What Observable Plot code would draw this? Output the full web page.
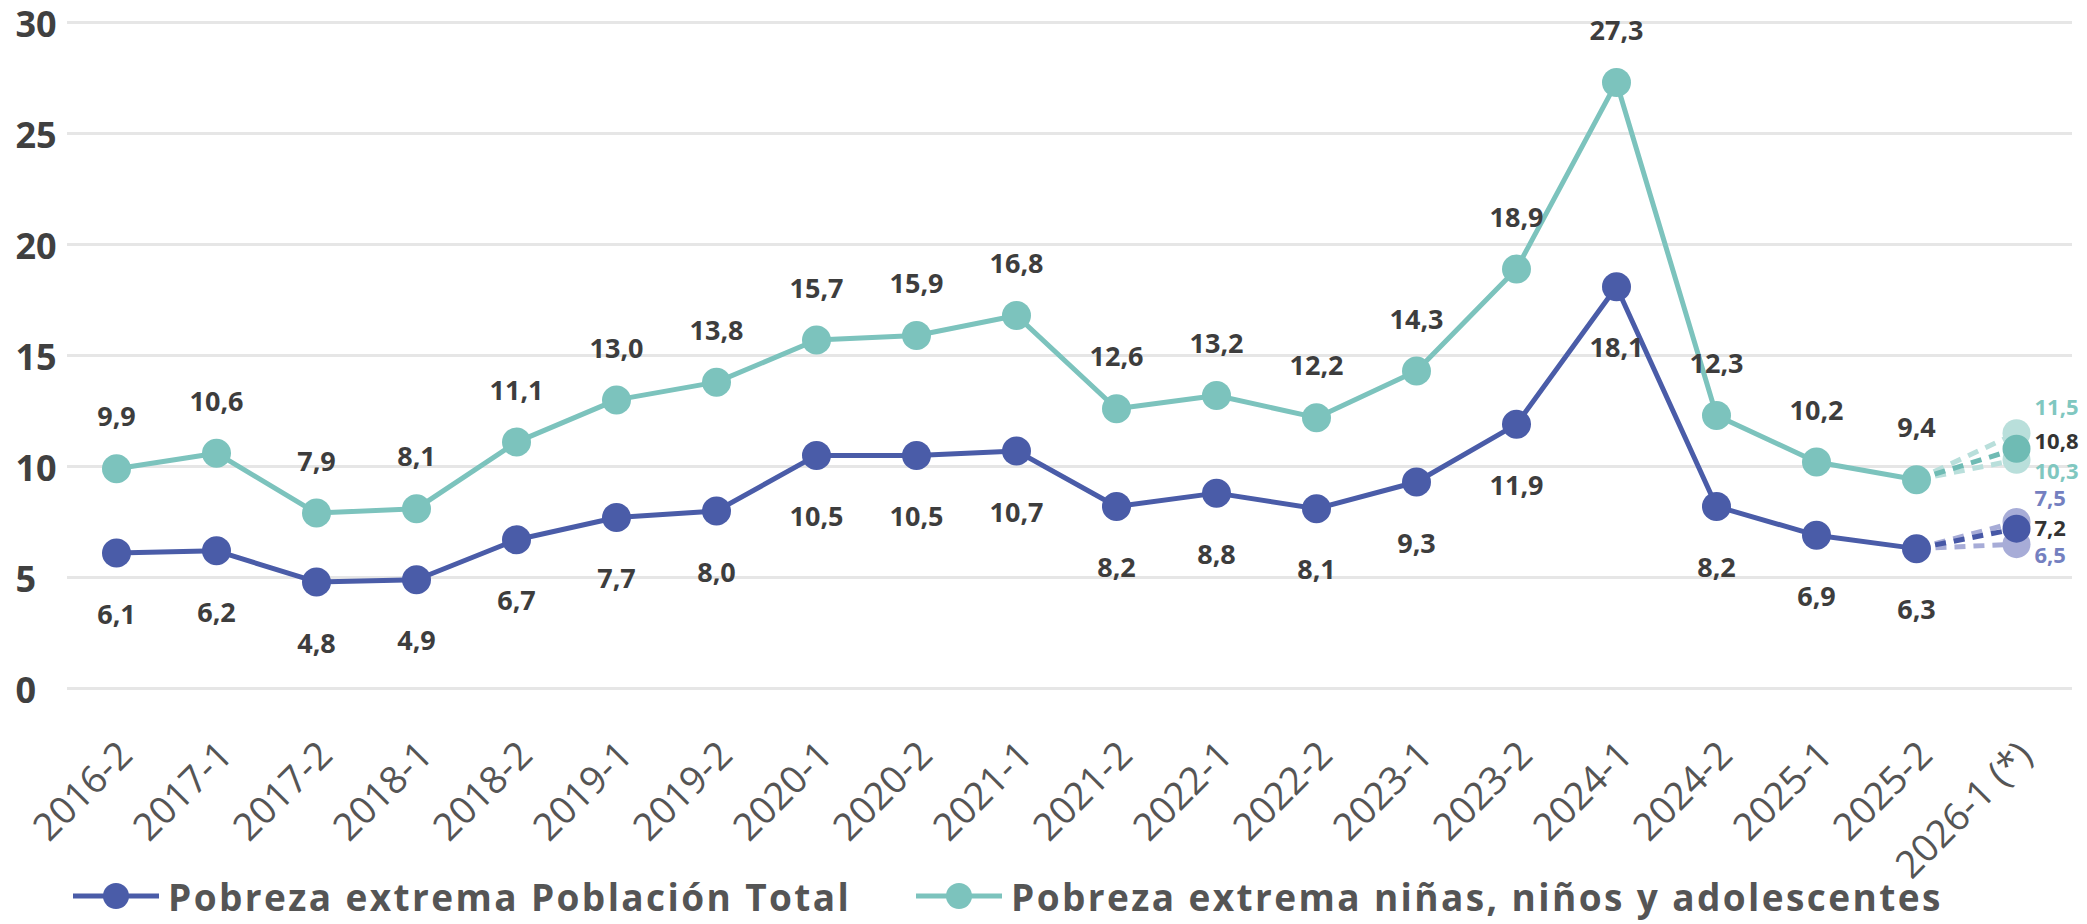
<!DOCTYPE html>
<html>
<head>
<meta charset="utf-8">
<script src="https://cdn.jsdelivr.net/npm/d3@7"></script>
<script src="https://cdn.jsdelivr.net/npm/@observablehq/plot@0.6"></script>
<style>
  html, body { margin: 0; padding: 0; background: #fff; }
  #wrap { position: relative; width: 2087px; height: 924px; overflow: hidden; font-family: "Open Sans", sans-serif; }
  #legend { position: absolute; left: 0; top: 874px; width: 2087px; height: 44px; }
  .item { position: absolute; top: 0; height: 44px; display: flex; align-items: center; }
  .item svg { display: block; }
  .item span { font-weight: 700; font-size: 37px; line-height: 1; color: #555; letter-spacing: 2.4px; margin-left: 9px; white-space: nowrap; }
</style>
</head>
<body>
<div id="wrap">
  <div id="chart"></div>
  <div id="legend"></div>
</div>
<script>
// ---- data ----
const periods = ["2016-2","2017-1","2017-2","2018-1","2018-2","2019-1","2019-2","2020-1","2020-2","2021-1","2021-2","2022-1","2022-2","2023-1","2023-2","2024-1","2024-2","2025-1","2025-2"];
const projPeriod = "2026-1 (*)";
const total = [6.1,6.2,4.8,4.9,6.7,7.7,8.0,10.5,10.5,10.7,8.2,8.8,8.1,9.3,11.9,18.1,8.2,6.9,6.3];
const ninos = [9.9,10.6,7.9,8.1,11.1,13.0,13.8,15.7,15.9,16.8,12.6,13.2,12.2,14.3,18.9,27.3,12.3,10.2,9.4];
// projection scenarios: upper, central, lower
const scenarios = ["alto","central","bajo"];
const totalProj = [7.5, 7.2, 6.5];
const ninosProj = [11.5, 10.8, 10.3];
const yTicks = [0,5,10,15,20,25,30];
const seriesNames = ["Pobreza extrema Población Total", "Pobreza extrema niñas, niños y adolescentes"];

// ---- styles ----
const BLUE = "#4a5ca8", TEAL = "#7cc3bd";
const BLUE_LIGHT = "#a7acd7", TEAL_LIGHT = "#b9dfdb";
const BLUE_MID = "#4758a6", TEAL_MID = "#6fbbb4";
const BLUE_TXT = "#7480c0", TEAL_TXT = "#80c7c0";
const LABEL = "#3d3d3d";

const allPeriods = [...periods, projPeriod];
const fmt = v => v.toFixed(1).replace(".", ",");

const rowsTotal = periods.map((p, i) => ({p, v: total[i]}));
const rowsNinos = periods.map((p, i) => ({p, v: ninos[i]}));
const lastP = periods[periods.length - 1];

const projRows = [];
scenarios.forEach((s, i) => {
  projRows.push({s, serie: "total", v0: total[total.length-1], v: totalProj[i]});
  projRows.push({s, serie: "ninos", v0: ninos[ninos.length-1], v: ninosProj[i]});
});
const projColor = d => d.s === "central" ? (d.serie === "total" ? BLUE_MID : TEAL_MID) : (d.serie === "total" ? BLUE_LIGHT : TEAL_LIGHT);
const projTxt = d => d.s === "central" ? "#333" : (d.serie === "total" ? BLUE_TXT : TEAL_TXT);
// label vertical nudges (to keep the three scenario labels apart)
const nudges = {total: {alto: -23, central: 0, bajo: 12}, ninos: {alto: -25, central: -7, bajo: 12}};
const projLabelMarks = [];
["total","ninos"].forEach(serie => scenarios.forEach(s => {
  projLabelMarks.push(Plot.text(projRows.filter(d => d.serie === serie && d.s === s), {
    x: () => projPeriod, y: "v", text: d => fmt(d.v), textAnchor: "start",
    dx: 18, dy: nudges[serie][s], fontSize: 22, fontWeight: 700, fill: projTxt
  }));
}));

const chart = Plot.plot({
  width: 2087,
  height: 872,
  marginTop: 22,
  marginBottom: 184,
  marginLeft: 67,
  marginRight: 15,
  style: {fontFamily: "'Open Sans', sans-serif", background: "#fff", overflow: "visible"},
  x: {type: "point", domain: allPeriods, range: [116, 2016], padding: 0, axis: null},
  y: {domain: [0, 30], axis: null},
  marks: [
    Plot.gridY(yTicks, {stroke: "#e6e6e6", strokeWidth: 3, strokeOpacity: 1}),
    Plot.text(yTicks, {y: d => d, text: d => String(d), frameAnchor: "left", textAnchor: "start", dx: -52, dy: 3, fontSize: 36, fontWeight: 700, fill: "#404040"}),
    Plot.text(allPeriods, {x: d => d, text: d => d, frameAnchor: "bottom", rotate: -45, textAnchor: "end", lineAnchor: "bottom", dx: 18, dy: 69, fontSize: 38, fill: "#555"}),
    // projection dashed links
    Plot.link(projRows.filter(d => d.s !== "central"), {x1: () => lastP, y1: "v0", x2: () => projPeriod, y2: "v", stroke: projColor, strokeWidth: 5, strokeDasharray: "11,8"}),
    Plot.link(projRows.filter(d => d.s === "central"), {x1: () => lastP, y1: "v0", x2: () => projPeriod, y2: "v", stroke: projColor, strokeWidth: 5, strokeDasharray: "11,8"}),
    // main lines
    Plot.line(rowsNinos, {x: "p", y: "v", stroke: TEAL, strokeWidth: 5}),
    Plot.line(rowsTotal, {x: "p", y: "v", stroke: BLUE, strokeWidth: 5}),
    // projection dots
    Plot.dot(projRows.filter(d => d.s !== "central"), {x: () => projPeriod, y: "v", r: 14, fill: projColor}),
    Plot.dot(projRows.filter(d => d.s === "central"), {x: () => projPeriod, y: "v", r: 14, fill: projColor}),
    // main dots
    Plot.dot(rowsNinos, {x: "p", y: "v", r: 14.5, fill: TEAL}),
    Plot.dot(rowsTotal, {x: "p", y: "v", r: 14.5, fill: BLUE}),
    // value labels
    Plot.text(rowsNinos, {x: "p", y: "v", text: d => fmt(d.v), dy: -51, fontSize: 27, fontWeight: 700, fill: LABEL}),
    Plot.text(rowsTotal, {x: "p", y: "v", text: d => fmt(d.v), dy: 62, fontSize: 27, fontWeight: 700, fill: LABEL}),
    ...projLabelMarks
  ]
});
document.getElementById("chart").appendChild(chart);

// legend
const legend = document.getElementById("legend");
const legendItems = [
  {name: seriesNames[0], color: BLUE, left: 73},
  {name: seriesNames[1], color: TEAL, left: 916}
];
legendItems.forEach(it => {
  const div = document.createElement("div");
  div.className = "item";
  div.style.left = it.left + "px";
  div.innerHTML = `<svg width="86" height="30"><line x1="0" y1="15" x2="86" y2="15" stroke="${it.color}" stroke-width="5"/><circle cx="43" cy="15" r="13" fill="${it.color}"/></svg><span>${it.name}</span>`;
  legend.appendChild(div);
});
</script>
</body>
</html>
